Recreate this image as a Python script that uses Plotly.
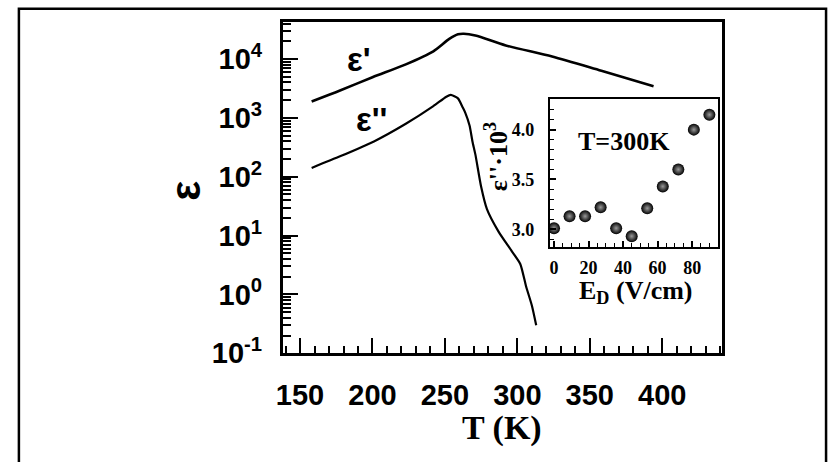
import plotly.graph_objects as go

# ---- data ----
T_real = [158, 178, 200, 223, 242, 253, 259, 263, 271, 292, 324, 358, 394]
eps_real = [1900, 2950, 4900, 8100, 13500, 21900, 26300, 26900, 25100, 17000, 11000, 6300, 3450]

T_imag = [158, 178, 201, 223, 242, 251, 254, 259, 262, 264, 267, 269, 271, 275, 279, 287, 296, 302, 306, 310, 313]
eps_imag = [141, 224, 398, 794, 1585, 2290, 2455, 2140, 1550, 1230, 741, 398, 240, 67.6, 28.2, 11.7, 5.5, 3.3, 1.38, 0.65, 0.30]

E_D = [0, 9, 18, 27, 36, 45, 54, 63, 72, 81, 90]
eps_inset = [3.01, 3.13, 3.13, 3.22, 3.01, 2.93, 3.21, 3.43, 3.60, 4.00, 4.15]

x_ticks = [150, 200, 250, 300, 350, 400]
y_ticks = [0.1, 1, 10, 100, 1000, 10000]
y_ticktext = ["10<sup>-1</sup>", "10<sup>0</sup>", "10<sup>1</sup>", "10<sup>2</sup>", "10<sup>3</sup>", "10<sup>4</sup>"]
inset_x_ticks = [0, 20, 40, 60, 80]
inset_y_ticks = [3.0, 3.5, 4.0]
inset_y_ticktext = ["3.0", "3.5", "4.0"]

W, H = 833, 462
def px(x):
    return x / W
def py(y):
    return 1 - y / H

sans = "Liberation Sans"
serif = "Liberation Serif"

fig = go.Figure()
fig.add_trace(go.Scatter(x=T_real, y=eps_real, mode="lines",
                         line=dict(color="black", width=2.6, shape="spline", smoothing=0.8),
                         xaxis="x", yaxis="y", hoverinfo="skip"))
fig.add_trace(go.Scatter(x=T_imag, y=eps_imag, mode="lines",
                         line=dict(color="black", width=2.2, shape="spline", smoothing=0.6),
                         xaxis="x", yaxis="y", hoverinfo="skip"))
fig.add_trace(go.Scatter(x=E_D, y=eps_inset, mode="markers",
                         marker=dict(size=12, color="black",
                                     gradient=dict(type="radial", color="#9a9a9a"),
                                     line=dict(width=0)),
                         xaxis="x2", yaxis="y2", hoverinfo="skip"))

x_minor = [v for v in range(140, 441, 10) if v not in x_ticks]
y_minor = [m * 10 ** e for e in range(-1, 5) for m in range(2, 10)]
ix_minor = [v for v in range(0, 95, 5) if v not in inset_x_ticks]
iy_minor = [round(2.9 + 0.1 * i, 2) for i in range(15) if round(2.9 + 0.1 * i, 2) not in inset_y_ticks]

fig.update_layout(
    width=W, height=H,
    margin=dict(l=0, r=0, t=0, b=0),
    paper_bgcolor="white", plot_bgcolor="white",
    showlegend=False,
    xaxis=dict(domain=[px(278), px(720.7)], range=[138, 441],
               tickmode="array", tickvals=x_ticks,
               ticks="inside", ticklen=16, tickwidth=2, tickcolor="black",
               minor=dict(tickmode="array", tickvals=x_minor, ticks="inside", ticklen=8, tickwidth=1.6, tickcolor="black", showgrid=False),
               showline=True, linewidth=2.5, linecolor="black", mirror=True,
               showgrid=False, zeroline=False,
               tickfont=dict(family=sans, size=29, color="black", weight="bold"),
               ticklabelstandoff=14, anchor="y"),
    yaxis=dict(domain=[py(366), py(23.3)], type="log", range=[-1, 4.62],
               tickmode="array", tickvals=y_ticks, ticktext=y_ticktext,
               ticks="inside", ticklen=16, tickwidth=2, tickcolor="black",
               minor=dict(tickmode="array", tickvals=y_minor, ticks="inside", ticklen=9, tickwidth=1.6, tickcolor="black", showgrid=False),
               showline=True, linewidth=2.5, linecolor="black", mirror=True,
               showgrid=False, zeroline=False,
               tickfont=dict(family=sans, size=29, color="black", weight="bold"),
               ticklabelstandoff=12, anchor="x"),
    xaxis2=dict(domain=[px(547.3), px(716.7)], range=[-2.5, 94.8],
                tickmode="array", tickvals=inset_x_ticks,
                ticks="inside", ticklen=6, tickwidth=1.5, tickcolor="black",
                minor=dict(tickmode="array", tickvals=ix_minor, ticks="inside", ticklen=4, tickwidth=1.2, tickcolor="black", showgrid=False),
                showline=True, linewidth=1.6, linecolor="black", mirror=True,
                showgrid=False, zeroline=False,
                tickfont=dict(family=serif, size=18, color="black", weight="bold"),
                ticklabelstandoff=3, anchor="y2"),
    yaxis2=dict(domain=[py(256), py(102.3)], range=[2.82, 4.31],
                tickmode="array", tickvals=inset_y_ticks, ticktext=inset_y_ticktext,
                ticks="inside", ticklen=6, tickwidth=1.5, tickcolor="black",
                minor=dict(tickmode="array", tickvals=iy_minor, ticks="inside", ticklen=4, tickwidth=1.2, tickcolor="black", showgrid=False),
                showline=True, linewidth=1.6, linecolor="black", mirror=True,
                showgrid=False, zeroline=False,
                tickfont=dict(family=serif, size=18, color="black", weight="bold"),
                ticklabelstandoff=10, anchor="x2"),
    shapes=[dict(type="rect", xref="paper", yref="paper",
                 x0=px(12), x1=px(826), y0=-0.1, y1=py(9),
                 line=dict(color="black", width=2.5), fillcolor="rgba(0,0,0,0)", layer="above")],
)

annots = [
    dict(text="ε", x=px(180), y=py(197), textangle=-90, font=dict(family=sans, size=42, color="black", weight="bold")),
    dict(text="T (K)", x=px(499.4), y=py(443), font=dict(family=serif, size=34, color="black", weight="bold")),
    dict(text="ε'", x=px(355), y=py(62), font=dict(family=sans, size=33, color="black", weight="bold")),
    dict(text="ε''", x=px(368), y=py(124), font=dict(family=sans, size=33, color="black", weight="bold")),
    dict(text="T=300K", x=px(622.5), y=py(146.7), font=dict(family=serif, size=26, color="black", weight="bold")),
    dict(text="ε''·10<sup>3</sup>", x=px(494), y=py(162), textangle=-90, font=dict(family=serif, size=26, color="black", weight="bold")),
    dict(text="E<sub>D</sub> (V/cm)", x=px(634), y=py(284), yanchor="top", font=dict(family=serif, size=26, color="black", weight="bold")),
]
for a in annots:
    a.setdefault("yanchor", "middle")
    a.update(xref="paper", yref="paper", showarrow=False, xanchor="center")
    fig.add_annotation(**a)

fig.write_html("out.html", config={"displayModeBar": False},
               post_script="document.body.style.margin='0px';document.body.style.overflow='hidden';")
